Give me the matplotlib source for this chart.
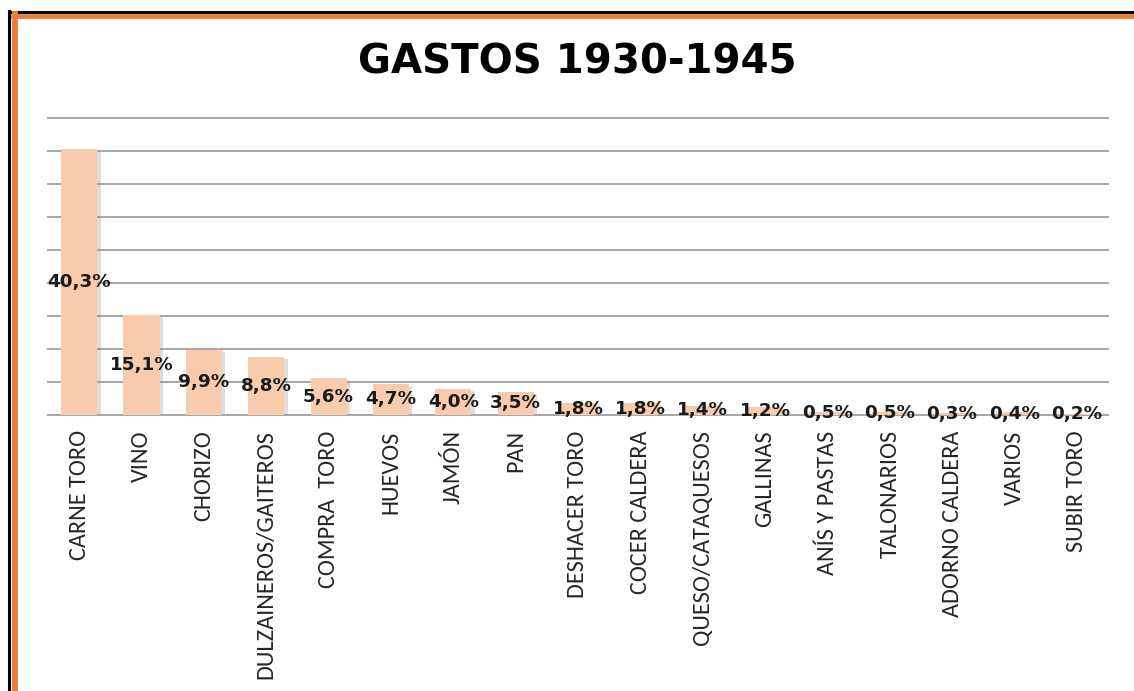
import matplotlib
matplotlib.use("Agg")
import matplotlib.pyplot as plt
from matplotlib import patheffects as pe
from matplotlib.lines import Line2D
from matplotlib import font_manager as fm

categories = ["CARNE TORO", "VINO", "CHORIZO", "DULZAINEROS/GAITEROS", "COMPRA  TORO",
              "HUEVOS", "JAMÓN", "PAN", "DESHACER TORO", "COCER CALDERA",
              "QUESO/CATAQUESOS", "GALLINAS", "ANÍS Y PASTAS", "TALONARIOS",
              "ADORNO CALDERA", "VARIOS", "SUBIR TORO"]
values = [40.3, 15.1, 9.9, 8.8, 5.6, 4.7, 4.0, 3.5, 1.8, 1.8, 1.4, 1.2, 0.5, 0.5, 0.3, 0.4, 0.2]
labels = ["40,3%", "15,1%", "9,9%", "8,8%", "5,6%", "4,7%", "4,0%", "3,5%", "1,8%", "1,8%",
          "1,4%", "1,2%", "0,5%", "0,5%", "0,3%", "0,4%", "0,2%"]
title = "GASTOS 1930-1945"

W, H = 1134, 691
fig = plt.figure(figsize=(W / 100, H / 100), dpi=100)
fig.patch.set_facecolor("white")

ax = fig.add_axes([48 / W, 1 - 415 / H, (1108 - 48) / W, (415 - 118) / H])
ax.set_xlim(-0.5, len(categories) - 0.5)
ax.set_ylim(0, 45)

for y in range(0, 50, 5):
    ax.axhline(y, color="#a6a6a6", lw=1.4, zorder=1, clip_on=False)

x = list(range(len(categories)))
bars = ax.bar(x, values, width=0.58, color="#f8cbad", zorder=2)
for b in bars:
    b.set_path_effects([pe.SimplePatchShadow(offset=(2.5, -1.5), shadow_rgbFace="#909090", alpha=0.3),
                        pe.Normal()])

for xi, v, lab in zip(x, values, labels):
    ax.text(xi, v / 2, lab, ha="center", va="center", fontsize=13.2,
            fontweight="bold", color="#1a1a1a", family="DejaVu Sans", zorder=4)

for s in ax.spines.values():
    s.set_visible(False)
ax.set_yticks([])
ax.set_xticks(x)

names = {f.name for f in fm.fontManager.ttflist}
tick_font, tick_size = "Liberation Sans", 14
for cand, size in [("Carlito", 17.5), ("Liberation Sans Narrow", 17.5), ("Archivo Narrow", 17),
                   ("Roboto Condensed", 17), ("Open Sans Condensed", 17), ("Asap Condensed", 17)]:
    if cand in names:
        tick_font, tick_size = cand, size
        break
ax.set_xticklabels(categories, rotation=90, fontsize=tick_size, family=tick_font, color="#262626")
ax.tick_params(axis="x", length=0, pad=11)

fig.text(577 / W, 1 - 63 / H, title, ha="center", va="center", fontsize=29,
         fontweight="bold", family="DejaVu Sans", color="black")

# frame (cut off at right and bottom)
fig.add_artist(Line2D([8.5 / W, 8.5 / W], [0, 1 - 11 / H], color="black", lw=2.2, transform=fig.transFigure))
fig.add_artist(Line2D([8.5 / W, 1], [1 - 12 / H, 1 - 12 / H], color="black", lw=2.2, transform=fig.transFigure))
fig.add_artist(Line2D([14.5 / W, 14.5 / W], [0, 1 - 14 / H], color="#ed7d31", lw=4.2, transform=fig.transFigure))
fig.add_artist(Line2D([12.5 / W, 1], [1 - 16 / H, 1 - 16 / H], color="#ed7d31", lw=3.4, transform=fig.transFigure))

fig.savefig("out.png", dpi=100, facecolor="white")
